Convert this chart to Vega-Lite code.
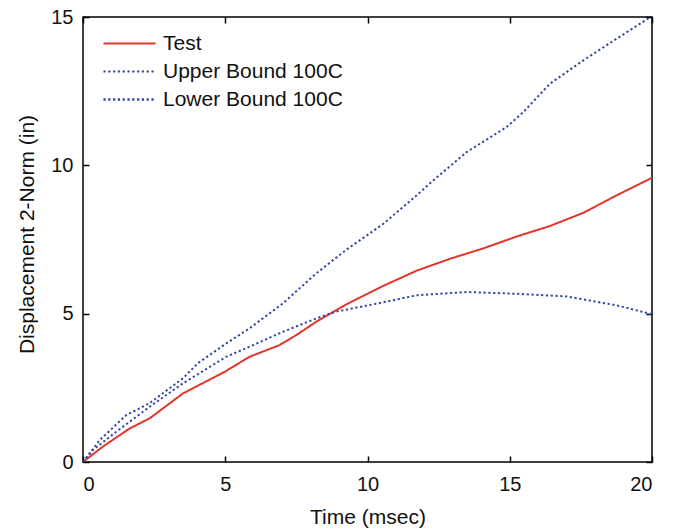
{
  "$schema": "https://vega.github.io/schema/vega-lite/v6.json",
  "width": 569,
  "height": 445,
  "autosize": "none",
  "padding": {"left": 83, "top": 17, "right": 23, "bottom": 69},
  "background": "white",
  "config": {
    "font": "Liberation Sans",
    "view": {"stroke": "black", "strokeWidth": 1.5},
    "axis": {"grid": false, "domain": false, "tickColor": "black", "tickSize": -6, "tickWidth": 1.5, "labelFontSize": 20, "labelColor": "#111", "titleFontSize": 21, "titleFontWeight": "normal", "titleColor": "#111"}
  },
  "data": {"values": [
    {"s": "Test", "t": 0, "d": 0},
    {"s": "Test", "t": 0.7, "d": 0.52},
    {"s": "Test", "t": 1.64, "d": 1.13},
    {"s": "Test", "t": 2.34, "d": 1.47},
    {"s": "Test", "t": 3.51, "d": 2.31},
    {"s": "Test", "t": 4.98, "d": 3.04},
    {"s": "Test", "t": 5.86, "d": 3.55},
    {"s": "Test", "t": 6.91, "d": 3.94},
    {"s": "Test", "t": 7.5, "d": 4.28},
    {"s": "Test", "t": 8.2, "d": 4.73},
    {"s": "Test", "t": 8.9, "d": 5.12},
    {"s": "Test", "t": 9.37, "d": 5.37},
    {"s": "Test", "t": 10.54, "d": 5.93},
    {"s": "Test", "t": 11.73, "d": 6.45},
    {"s": "Test", "t": 12.9, "d": 6.85},
    {"s": "Test", "t": 14.07, "d": 7.2},
    {"s": "Test", "t": 15.24, "d": 7.6},
    {"s": "Test", "t": 16.4, "d": 7.95},
    {"s": "Test", "t": 17.59, "d": 8.4},
    {"s": "Test", "t": 18.76, "d": 8.99},
    {"s": "Test", "t": 20, "d": 9.58},
    {"s": "Upper Bound 100C", "t": 0, "d": 0},
    {"s": "Upper Bound 100C", "t": 0.59, "d": 0.74},
    {"s": "Upper Bound 100C", "t": 1.52, "d": 1.58},
    {"s": "Upper Bound 100C", "t": 2.34, "d": 1.98},
    {"s": "Upper Bound 100C", "t": 3.51, "d": 2.82},
    {"s": "Upper Bound 100C", "t": 4.04, "d": 3.33},
    {"s": "Upper Bound 100C", "t": 5.04, "d": 4.0},
    {"s": "Upper Bound 100C", "t": 5.86, "d": 4.51},
    {"s": "Upper Bound 100C", "t": 7.03, "d": 5.35},
    {"s": "Upper Bound 100C", "t": 8.2, "d": 6.36},
    {"s": "Upper Bound 100C", "t": 9.25, "d": 7.15},
    {"s": "Upper Bound 100C", "t": 10.56, "d": 8.03},
    {"s": "Upper Bound 100C", "t": 11.73, "d": 8.99},
    {"s": "Upper Bound 100C", "t": 12.31, "d": 9.49},
    {"s": "Upper Bound 100C", "t": 13.49, "d": 10.45},
    {"s": "Upper Bound 100C", "t": 14.89, "d": 11.29},
    {"s": "Upper Bound 100C", "t": 15.48, "d": 11.8},
    {"s": "Upper Bound 100C", "t": 16.41, "d": 12.75},
    {"s": "Upper Bound 100C", "t": 17.59, "d": 13.54},
    {"s": "Upper Bound 100C", "t": 18.76, "d": 14.27},
    {"s": "Upper Bound 100C", "t": 19.95, "d": 15.0},
    {"s": "Lower Bound 100C", "t": 0, "d": 0},
    {"s": "Lower Bound 100C", "t": 0.35, "d": 0.4},
    {"s": "Lower Bound 100C", "t": 1.17, "d": 1.02},
    {"s": "Lower Bound 100C", "t": 2.34, "d": 1.86},
    {"s": "Lower Bound 100C", "t": 3.51, "d": 2.65},
    {"s": "Lower Bound 100C", "t": 5.04, "d": 3.55},
    {"s": "Lower Bound 100C", "t": 5.86, "d": 3.89},
    {"s": "Lower Bound 100C", "t": 7.03, "d": 4.39},
    {"s": "Lower Bound 100C", "t": 8.2, "d": 4.84},
    {"s": "Lower Bound 100C", "t": 8.9, "d": 5.07},
    {"s": "Lower Bound 100C", "t": 10.54, "d": 5.38},
    {"s": "Lower Bound 100C", "t": 11.73, "d": 5.62},
    {"s": "Lower Bound 100C", "t": 13.49, "d": 5.73},
    {"s": "Lower Bound 100C", "t": 15.24, "d": 5.67},
    {"s": "Lower Bound 100C", "t": 17.0, "d": 5.58},
    {"s": "Lower Bound 100C", "t": 18.76, "d": 5.28},
    {"s": "Lower Bound 100C", "t": 20, "d": 4.98}
  ]},
  "layer": [
    {
      "mark": {"type": "line", "strokeWidth": 2, "clip": true},
      "encoding": {
        "x": {"field": "t", "type": "quantitative", "scale": {"domain": [0, 20], "nice": false}, "axis": {"values": [0, 5, 10, 15, 20], "title": "Time (msec)", "labelPadding": 18, "titleY": 55, "titleBaseline": "middle"}},
        "y": {"field": "d", "type": "quantitative", "scale": {"domain": [0, 15], "nice": false}, "axis": {"values": [0, 5, 10, 15], "title": "Displacement 2-Norm (in)", "labelPadding": 16, "titleX": -56, "titleY": 217, "titleBaseline": "middle"}},
        "color": {"field": "s", "type": "nominal", "scale": {"domain": ["Test", "Upper Bound 100C", "Lower Bound 100C"], "range": ["#e2352b", "#3346a6", "#3346a6"]},
          "legend": {"title": null, "orient": "none", "legendX": 29, "legendY": 9, "symbolType": "M-1.6,0H1.6", "symbolSize": 1060, "symbolStrokeWidth": 2, "labelFontSize": 21, "labelColor": "#111", "labelLimit": 400, "rowPadding": 0, "labelOffset": 16}},
        "strokeDash": {"field": "s", "type": "nominal", "scale": {"domain": ["Test", "Upper Bound 100C", "Lower Bound 100C"], "range": [[1, 0], [2.2, 2.6], [2.2, 2.6]]}, "legend": null},
        "strokeWidth": {"field": "s", "type": "nominal", "scale": {"domain": ["Test", "Upper Bound 100C", "Lower Bound 100C"], "range": [2, 2.4, 2.4]}, "legend": null}
      }
    },
    {
      "mark": {"type": "line", "opacity": 0},
      "encoding": {
        "x": {"field": "t", "type": "quantitative", "axis": {"orient": "top", "values": [0, 5, 10, 15, 20], "labels": false, "title": null}},
        "y": {"field": "d", "type": "quantitative", "axis": {"orient": "right", "values": [0, 5, 10, 15], "labels": false, "title": null}},
        "detail": {"field": "s"}
      }
    }
  ],
  "resolve": {"axis": {"x": "independent", "y": "independent"}}
}
